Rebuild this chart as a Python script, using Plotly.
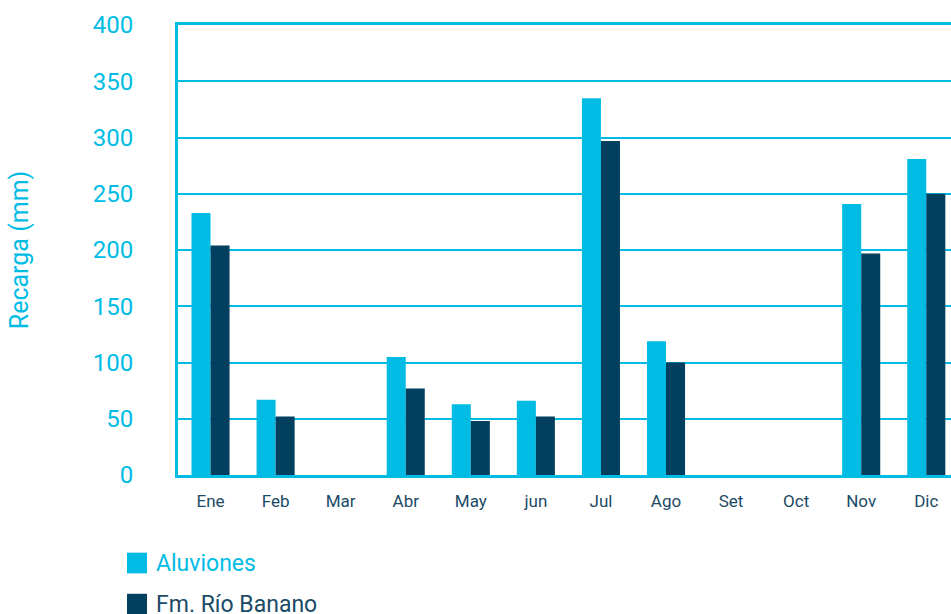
import plotly.graph_objects as go

months = ["Ene", "Feb", "Mar", "Abr", "May", "jun", "Jul", "Ago", "Set", "Oct", "Nov", "Dic"]
aluviones = [233, 67, 0, 105, 63, 66, 335, 119, 0, 0, 241, 281]
rio_banano = [204, 52, 0, 77, 48, 52, 297, 100, 0, 0, 197, 250]
series_names = ["Aluviones", "Fm. Río Banano"]
y_ticks = [0, 50, 100, 150, 200, 250, 300, 350, 400]

CYAN = "#00BCE4"
NAVY = "#033F5F"
FONT = "Roboto"

fig = go.Figure()
fig.add_trace(go.Bar(x=months, y=aluviones, name=series_names[0], marker_color=CYAN,
                     marker_line_width=0, showlegend=False))
fig.add_trace(go.Bar(x=months, y=rio_banano, name=series_names[1], marker_color=NAVY,
                     marker_line_width=0, showlegend=False))

fig.update_layout(
    width=951, height=614,
    margin=dict(l=178, r=0, t=25, b=139),
    paper_bgcolor="white", plot_bgcolor="white",
    barmode="group", bargap=0.415, bargroupgap=0,
    font=dict(family=FONT),
    xaxis=dict(
        range=[-0.5, 11.38], showgrid=False, showline=True, linecolor=CYAN, linewidth=3,
        mirror=True,
        tickfont=dict(size=17, color="#1B4A66", family=FONT), ticks="", ticklabelstandoff=9,
    ),
    yaxis=dict(
        range=[0, 400], tickvals=y_ticks, showgrid=True, gridcolor=CYAN, gridwidth=2,
        showline=True, linecolor=CYAN, linewidth=3, zeroline=False,
        tickfont=dict(size=24, color=CYAN, family=FONT), ticks="", ticklabelstandoff=37,
        title=dict(text="Recarga (mm)", font=dict(size=25, color=CYAN, family=FONT), standoff=57),
    ),
)

# legend drawn as squares + labels below the plot
legend_colors = [CYAN, NAVY]
legend_text_colors = [CYAN, "#1B4A66"]
legend_y = [-0.1956, -0.287]
for name, col, tcol, yc in zip(series_names, legend_colors, legend_text_colors, legend_y):
    fig.add_shape(type="rect", xref="paper", yref="paper",
                  x0=-0.0660, x1=-0.0401, y0=yc - 0.023, y1=yc + 0.023,
                  fillcolor=col, line_width=0)
    fig.add_annotation(xref="paper", yref="paper", x=-0.0310, y=yc, text=name,
                       showarrow=False, xanchor="left", yanchor="middle",
                       font=dict(size=23, color=tcol, family=FONT))

fig.write_html(
    "out.html",
    config={"displayModeBar": False},
    post_script="document.body.style.margin='0';document.body.style.overflow='hidden';",
)
